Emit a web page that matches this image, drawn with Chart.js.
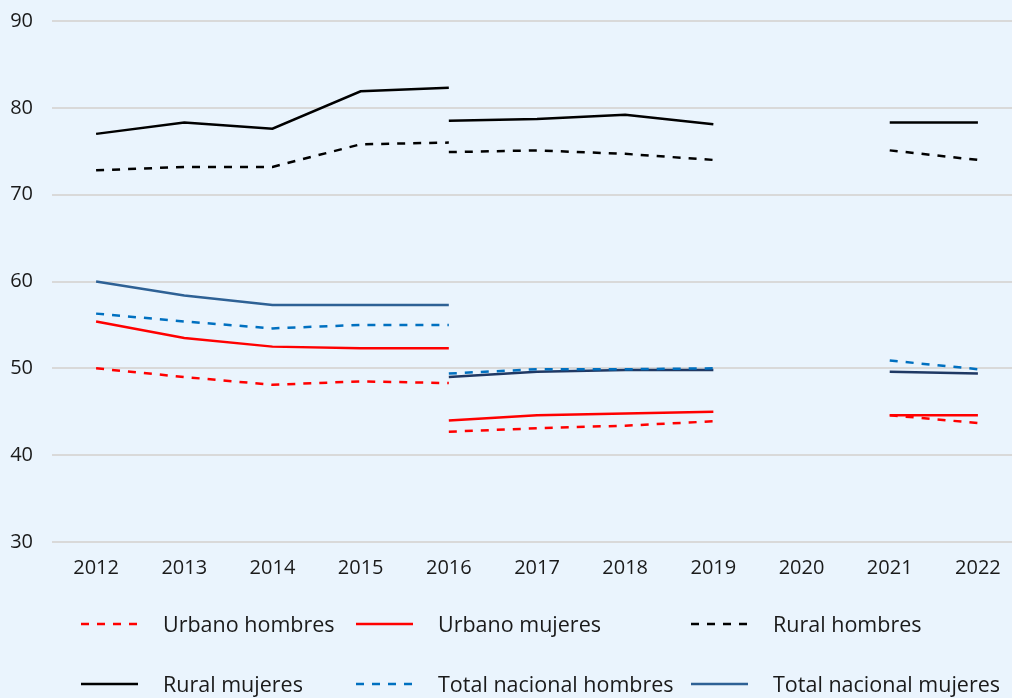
<!DOCTYPE html>
<html lang="es">
<head>
<meta charset="utf-8">
<script src="https://cdn.jsdelivr.net/npm/chart.js@4.4.1/dist/chart.umd.min.js"></script>
<style>
    html, body { margin: 0; padding: 0; background: #eaf4fd; overflow: hidden; }
    body { width: 1012px; height: 698px; position: relative; font-family: 'Open Sans', sans-serif; }
    #wrap { position: absolute; left: 0; top: -10px; width: 1024px; height: 708px; }
    .leyenda { position: absolute; font-size: 21.5px; color: #1a1a1a; line-height: 24px; }
    .leyenda svg { position: absolute; }
    .leyenda span { position: absolute; white-space: nowrap; }
</style>
</head>
<body>
<div id="wrap"><canvas id="chartEmpleo"></canvas></div>
<div id="leyenda"></div>
<script>
// Años
const anios = ['2012', '2013', '2014', '2015', '2016', '2017', '2018', '2019', '2020', '2021', '2022'];

// Serie antigua (2012-2016)
const urbanoHombresA = [50.0, 49.0, 48.1, 48.5, 48.3, null, null, null, null, null, null];
const urbanoMujeresA = [55.4, 53.5, 52.5, 52.3, 52.3, null, null, null, null, null, null];
const ruralHombresA = [72.8, 73.2, 73.2, 75.8, 76.0, null, null, null, null, null, null];
const ruralMujeresA = [77.0, 78.3, 77.6, 81.9, 82.3, null, null, null, null, null, null];
const totalHombresA = [56.3, 55.4, 54.6, 55.0, 55.0, null, null, null, null, null, null];
const totalMujeresA = [60.0, 58.4, 57.3, 57.3, 57.3, null, null, null, null, null, null];

// Serie nueva (2016-2022)
const urbanoHombresB = [null, null, null, null, 42.7, 43.1, 43.4, 43.9, null, 44.6, 43.7];
const urbanoMujeresB = [null, null, null, null, 44.0, 44.6, 44.8, 45.0, null, 44.6, 44.6];
const ruralHombresB = [null, null, null, null, 74.9, 75.1, 74.7, 74.0, null, 75.1, 74.0];
const ruralMujeresB = [null, null, null, null, 78.5, 78.7, 79.2, 78.1, null, 78.3, 78.3];
const totalHombresB = [null, null, null, null, 49.4, 49.9, 49.9, 50.0, null, 50.9, 49.9];
const totalMujeresB = [null, null, null, null, 49.0, 49.6, 49.8, 49.8, null, 49.6, 49.4];

// Eje Y
const ticksY = [30, 40, 50, 60, 70, 80, 90];

const ROJO = '#ff0000', NEGRO = '#000000', AZUL = '#0070c0', AZUL_OSC = '#2e6195', AZUL_NAVY = '#1f3864';
const GUION = [8, 8];

function serie(label, data, color, dash) {
    return {
        label: label,
        data: data,
        borderColor: color,
        backgroundColor: color,
        borderWidth: 2.5,
        borderDash: dash || [],
        pointRadius: 0,
        pointHoverRadius: 0,
        tension: 0,
        spanGaps: false
    };
}

const datasets = [
    serie('Urbano hombres', urbanoHombresA, ROJO, GUION),
    serie('Urbano mujeres', urbanoMujeresA, ROJO),
    serie('Rural hombres', ruralHombresA, NEGRO, GUION),
    serie('Rural mujeres', ruralMujeresA, NEGRO),
    serie('Total nacional hombres', totalHombresA, AZUL, GUION),
    serie('Total nacional mujeres', totalMujeresA, AZUL_OSC),
    serie('Urbano hombres', urbanoHombresB, ROJO, GUION),
    serie('Urbano mujeres', urbanoMujeresB, ROJO),
    serie('Rural hombres', ruralHombresB, NEGRO, GUION),
    serie('Rural mujeres', ruralMujeresB, NEGRO),
    serie('Total nacional hombres', totalHombresB, AZUL, GUION),
    serie('Total nacional mujeres', totalMujeresB, AZUL_NAVY)
];

const canvas = document.getElementById('chartEmpleo');
canvas.width = 1024;
canvas.height = 708;

new Chart(canvas.getContext('2d'), {
    type: 'line',
    data: { labels: anios, datasets: datasets },
    options: {
        responsive: false,
        animation: false,
        layout: { padding: { top: 10, right: 2, left: 0, bottom: 0 } },
        plugins: { legend: { display: false }, tooltip: { enabled: false } },
        scales: {
            x: {
                offset: true,
                grid: { display: false, drawTicks: false },
                border: { display: false },
                ticks: { color: '#1a1a1a', font: { family: 'Open Sans', size: 20 }, padding: 14, maxRotation: 0 },
                afterFit: scale => { scale.height = 156; }
            },
            y: {
                min: 30,
                max: 90,
                afterBuildTicks: scale => { scale.ticks = ticksY.map(v => ({ value: v })); },
                grid: { color: '#d9d9d9', lineWidth: 2, drawTicks: false },
                border: { display: false },
                ticks: { color: '#1a1a1a', font: { family: 'Open Sans', size: 20 }, padding: 19 },
                afterFit: scale => { scale.width = 52; }
            }
        }
    }
});

// Leyenda en HTML (2 filas x 3 columnas)
const itemsLeyenda = [
    { texto: 'Urbano hombres', color: ROJO, dash: true, x: 80, y: 624 },
    { texto: 'Urbano mujeres', color: ROJO, dash: false, x: 355, y: 624 },
    { texto: 'Rural hombres', color: NEGRO, dash: true, x: 690, y: 624 },
    { texto: 'Rural mujeres', color: NEGRO, dash: false, x: 80, y: 684 },
    { texto: 'Total nacional hombres', color: AZUL, dash: true, x: 355, y: 684 },
    { texto: 'Total nacional mujeres', color: AZUL_OSC, dash: false, x: 690, y: 684 }
];
const cont = document.getElementById('leyenda');
itemsLeyenda.forEach(it => {
    const d = document.createElement('div');
    d.className = 'leyenda';
    d.style.left = it.x + 'px';
    d.style.top = (it.y - 12) + 'px';
    const da = it.dash ? ' stroke-dasharray="8 8"' : '';
    d.innerHTML = '<svg width="60" height="6" style="left:0;top:9px"><line x1="1" y1="3" x2="58" y2="3" stroke="' + it.color + '" stroke-width="2.5"' + da + '/></svg>' +
        '<span style="left:83px;top:0">' + it.texto + '</span>';
    cont.appendChild(d);
});
</script>
</body>
</html>
